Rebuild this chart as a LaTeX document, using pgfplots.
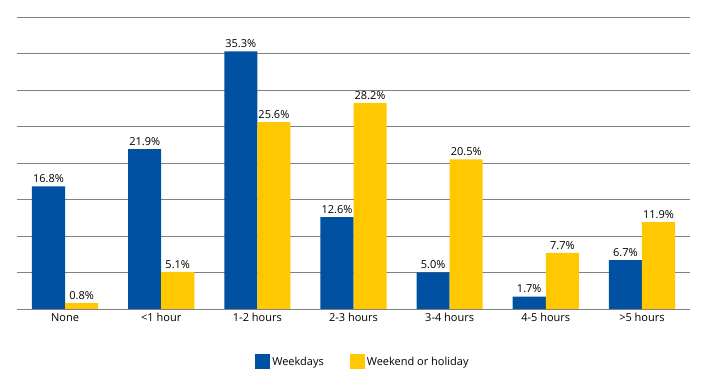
\documentclass[border=0pt]{standalone}
\usepackage{pgfplots}
\pgfplotsset{compat=1.18}
\usepackage{fontspec}
\setmainfont{Open Sans}
\definecolor{wkblue}{RGB}{0,81,161}
\definecolor{wkyellow}{RGB}{255,200,0}
\definecolor{gridgray}{RGB}{128,128,128}
\begin{document}
\begin{tikzpicture}[x=1pt,y=1pt]
\begin{axis}[
  scale only axis,
  width=673pt, height=292pt,
  ybar=0pt,
  bar width=0.344,
  xmin=-0.5, xmax=6.5,
  ymin=0, ymax=40,
  ytick={0,5,...,40},
  yticklabels={},
  major tick length=0pt,
  ymajorgrids,
  grid style={gridgray, line width=0.8pt},
  axis line style={draw=none},
  xtick={0,...,6},
  xticklabels={None,{<1 hour},{1-2 hours},{2-3 hours},{3-4 hours},{4-5 hours},{>5 hours}},
  ticklabel style={font=\fontsize{11}{13}\selectfont},
  xticklabel style={yshift=-1pt},
  /pgf/number format/assume math mode=true,
  nodes near coords={\pgfmathprintnumber[fixed,precision=1,fixed zerofill,assume math mode=true]{\pgfplotspointmeta}\%},
  every node near coord/.append style={font=\fontsize{11}{13}\selectfont, black, yshift=0pt},
  legend style={draw=none, at={(0.514,-0.18)}, anchor=center, legend columns=-1,
    font=\fontsize{11}{13}\selectfont, nodes={inner xsep=2pt},
    /tikz/every even column/.append style={column sep=24pt}},
  legend image code/.code={\fill[#1] (0pt,-7pt) rectangle (15pt,8pt);},
]
\addplot[fill=wkblue, draw=none] coordinates {(0,16.8) (1,21.9) (2,35.3) (3,12.6) (4,5.0) (5,1.7) (6,6.7)};
\addplot[fill=wkyellow, draw=none] coordinates {(0,0.8) (1,5.1) (2,25.6) (3,28.2) (4,20.5) (5,7.7) (6,11.9)};
\legend{Weekdays, Weekend or holiday}
\end{axis}
\path (current axis.south west) ++(-17pt,-83pt) coordinate (bl);
\path (current axis.north east) ++(18pt,17pt) coordinate (tr);
\useasboundingbox (bl) rectangle (tr);
\end{tikzpicture}
\end{document}
